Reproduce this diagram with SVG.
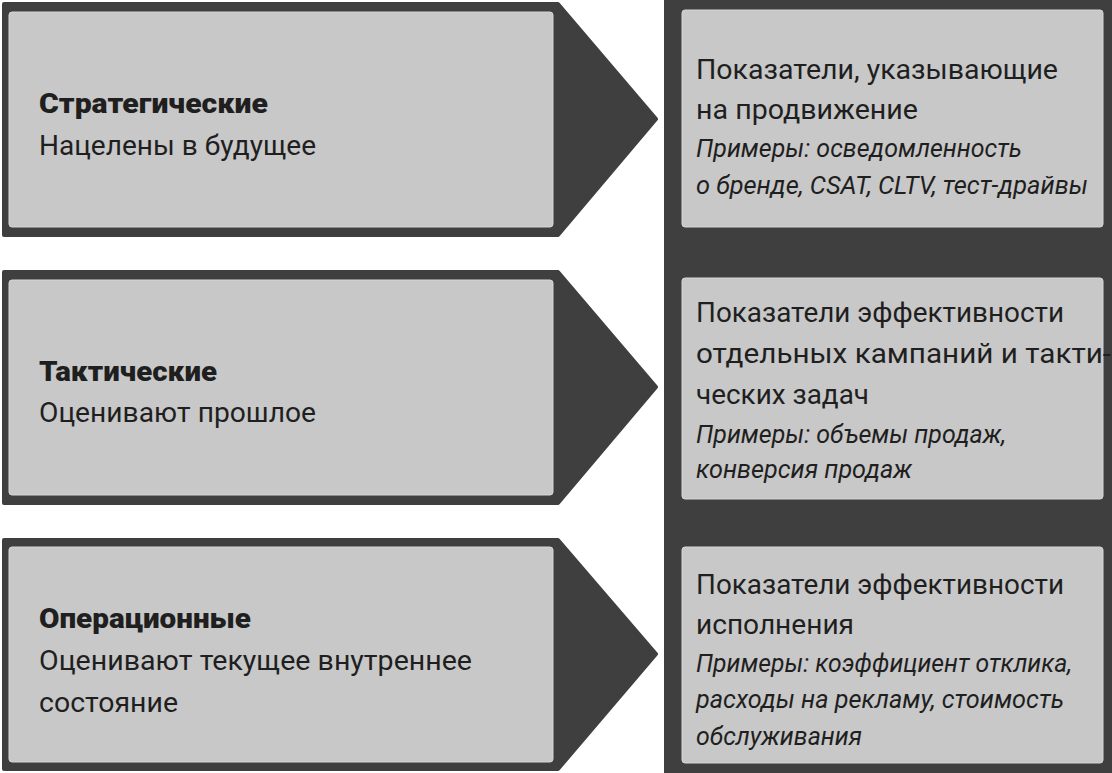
<svg xmlns="http://www.w3.org/2000/svg" width="1112" height="773" viewBox="0 0 1112 773">
<style>
.dark{fill:#3f3f3f;stroke:#3f3f3f;stroke-width:4;stroke-linejoin:round}
.light{fill:#c8c8c8;stroke:#d6d6d6;stroke-width:1}
text{font-family:Roboto,"Liberation Sans",sans-serif;fill:#1f1f1f}
.b{font-weight:900;font-size:27px}
.n{font-size:28px}
.i{font-style:italic;font-size:25px}
</style>
<rect x="0" y="0" width="1112" height="773" fill="#ffffff"/>
<g id="panel-right">
<rect x="664" y="0" width="448" height="773" fill="#3f3f3f"/>
</g>
<g id="strategic">
<path class="dark" d="M4,4 L558,4 L656,119 L558,235 L4,235 Z"/>
<rect class="light" x="9" y="12" width="544" height="215" rx="3"/>
<text class="b" x="39" y="113" textLength="229" lengthAdjust="spacingAndGlyphs">Стратегические</text>
<text class="n" x="39" y="155" textLength="277" lengthAdjust="spacingAndGlyphs">Нацелены в будущее</text>
</g>
<g id="tactical">
<path class="dark" d="M4,272 L558,272 L656,387 L558,503 L4,503 Z"/>
<rect class="light" x="9" y="280" width="544" height="215" rx="3"/>
<text class="b" x="39" y="381" textLength="178" lengthAdjust="spacingAndGlyphs">Тактические</text>
<text class="n" x="39" y="422" textLength="277" lengthAdjust="spacingAndGlyphs">Оценивают прошлое</text>
</g>
<g id="operational">
<path class="dark" d="M4,540 L558,540 L656,654 L558,769 L4,769 Z"/>
<rect class="light" x="9" y="547" width="544" height="215" rx="3"/>
<text class="b" x="39" y="628" textLength="212" lengthAdjust="spacingAndGlyphs">Операционные</text>
<text class="n" x="39" y="670" textLength="433" lengthAdjust="spacingAndGlyphs">Оценивают текущее внутреннее</text>
<text class="n" x="39" y="712" textLength="139" lengthAdjust="spacingAndGlyphs">состояние</text>
</g>
<g id="leading">
<rect class="light" x="682" y="10" width="421" height="217" rx="3"/>
<text class="n" x="696" y="79" textLength="362" lengthAdjust="spacingAndGlyphs">Показатели, указывающие</text>
<text class="n" x="696" y="119" textLength="222" lengthAdjust="spacingAndGlyphs">на продвижение</text>
<text class="i" x="696" y="157" textLength="326" lengthAdjust="spacingAndGlyphs">Примеры: осведомленность</text>
<text class="i" x="696" y="194" textLength="392" lengthAdjust="spacingAndGlyphs">о бренде, CSAT, CLTV, тест-драйвы</text>
</g>
<g id="campaign">
<rect class="light" x="682" y="278" width="421" height="221" rx="3"/>
<text class="n" x="696" y="322" textLength="368" lengthAdjust="spacingAndGlyphs">Показатели эффективности</text>
<text class="n" x="696" y="363" textLength="415" lengthAdjust="spacingAndGlyphs">отдельных кампаний и такти-</text>
<text class="n" x="696" y="404" textLength="173" lengthAdjust="spacingAndGlyphs">ческих задач</text>
<text class="i" x="696" y="443" textLength="310" lengthAdjust="spacingAndGlyphs">Примеры: объемы продаж,</text>
<text class="i" x="696" y="478" textLength="216" lengthAdjust="spacingAndGlyphs">конверсия продаж</text>
</g>
<g id="execution">
<rect class="light" x="682" y="547" width="421" height="216" rx="3"/>
<text class="n" x="696" y="594" textLength="368" lengthAdjust="spacingAndGlyphs">Показатели эффективности</text>
<text class="n" x="696" y="634" textLength="158" lengthAdjust="spacingAndGlyphs">исполнения</text>
<text class="i" x="696" y="672" textLength="376" lengthAdjust="spacingAndGlyphs">Примеры: коэффициент отклика,</text>
<text class="i" x="696" y="708" textLength="368" lengthAdjust="spacingAndGlyphs">расходы на рекламу, стоимость</text>
<text class="i" x="696" y="745" textLength="166" lengthAdjust="spacingAndGlyphs">обслуживания</text>
</g>
<g id="connectors"/>
</svg>
